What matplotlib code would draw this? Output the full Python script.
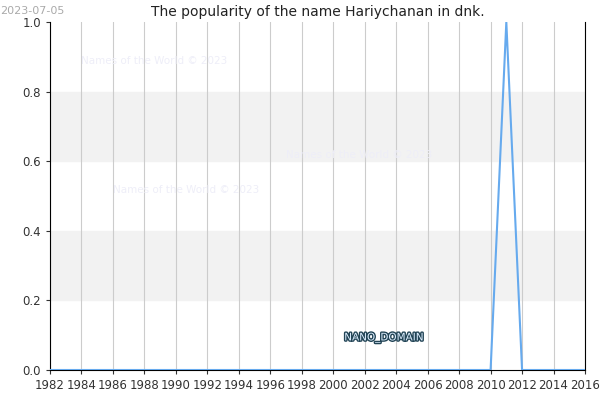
import matplotlib
matplotlib.use('Agg')
import matplotlib.pyplot as plt
import matplotlib.patheffects as pe

years = list(range(1982, 2017))
popularity = [0.0] * len(years)
popularity[years.index(2011)] = 1.0
ticks = list(range(1982, 2017, 2))

fig = plt.figure(figsize=(6, 4), dpi=100)
ax = fig.add_axes([50 / 600, 30 / 400, 535 / 600, 348 / 400])

# grey bands
for lo, hi in [(0.2, 0.4), (0.6, 0.8)]:
    ax.axhspan(lo, hi, color='#f2f2f2', zorder=0)

ax.plot(years, popularity, color='#66aaee', lw=1.5, zorder=3)

ax.set_xlim(1982, 2016)
ax.set_ylim(0, 1)
ax.set_xticks(ticks)
ax.set_yticks([0, 0.2, 0.4, 0.6, 0.8, 1.0])
ax.set_yticklabels(['0.0', '0.2', '0.4', '0.6', '0.8', '1.0'])
ax.grid(axis='x', color='#cccccc', lw=0.8, zorder=1)
ax.tick_params(labelsize=8.5, colors='#333333', length=3)
ax.spines['top'].set_visible(False)
for s in ['left', 'right', 'bottom']:
    ax.spines[s].set_color('black')

ax.set_title('The popularity of the name Hariychanan in dnk.', fontsize=10,
             color='#222222', pad=4)
fig.text(0.0, 0.985, '2023-07-05', fontsize=8, color='#aaaaaa', va='top')

for x, y in [(1984, 0.88), (1997, 0.61), (1986, 0.51)]:
    ax.text(x, y, 'Names of the World © 2023', fontsize=7.5, color='#eeeef8', zorder=2)

ax.text(2000.7, 0.085, 'NANO_DOMAIN', fontsize=7.5, color='#ddeeff', zorder=4,
        path_effects=[pe.withStroke(linewidth=2, foreground='#224455')])

fig.savefig('out.png')
